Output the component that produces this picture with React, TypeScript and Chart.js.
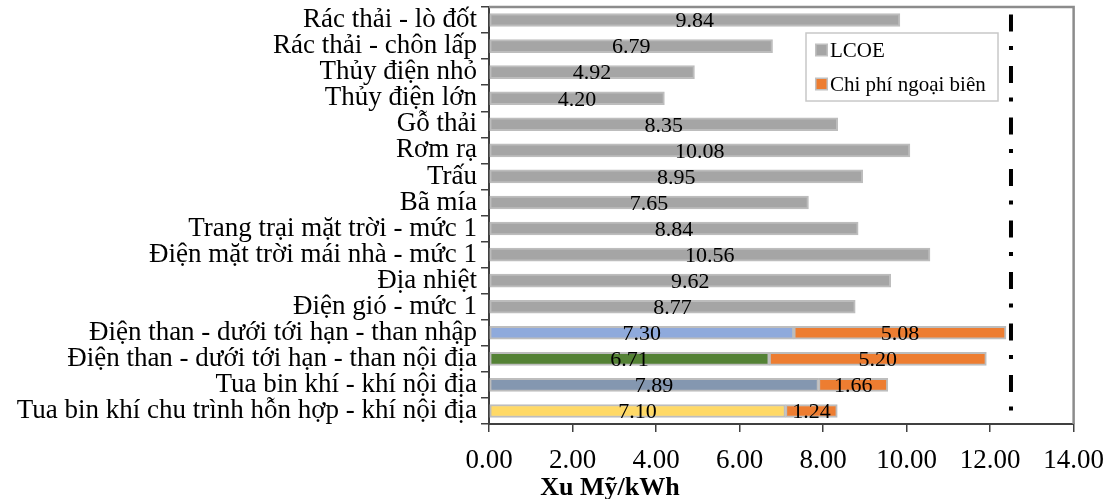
import React, { useEffect, useRef } from "react";
import { Chart, registerables } from "chart.js";

Chart.register(...registerables);

const categories = [
  "Rác thải - lò đốt",
  "Rác thải - chôn lấp",
  "Thủy điện nhỏ",
  "Thủy điện lớn",
  "Gỗ thải",
  "Rơm rạ",
  "Trấu",
  "Bã mía",
  "Trang trại mặt trời - mức 1",
  "Điện mặt trời mái nhà - mức 1",
  "Địa nhiệt",
  "Điện gió - mức 1",
  "Điện than - dưới tới hạn - than nhập",
  "Điện than - dưới tới hạn - than nội địa",
  "Tua bin khí - khí nội địa",
  "Tua bin khí chu trình hỗn hợp - khí nội địa",
];

const lcoe = [9.84, 6.79, 4.92, 4.2, 8.35, 10.08, 8.95, 7.65, 8.84, 10.56, 9.62, 8.77, 7.3, 6.71, 7.89, 7.1];
const externalCost = [null, null, null, null, null, null, null, null, null, null, null, null, 5.08, 5.2, 1.66, 1.24];
const lcoeColors = [
  "#a5a5a5", "#a5a5a5", "#a5a5a5", "#a5a5a5", "#a5a5a5", "#a5a5a5",
  "#a5a5a5", "#a5a5a5", "#a5a5a5", "#a5a5a5", "#a5a5a5", "#a5a5a5",
  "#8faadc", "#548235", "#8497b0", "#ffd966",
];
const xTicks = [0, 2, 4, 6, 8, 10, 12, 14];
const referenceLine = 12.5;
const seriesNames = ["LCOE", "Chi phí ngoại biên"];
const xAxisTitle = "Xu Mỹ/kWh";

const SERIF = "'Liberation Serif', 'Times New Roman', serif";

const decorPlugin = {
  id: "decor",
  afterDatasetsDraw(chart: any) {
    const { ctx, chartArea, scales } = chart;
    const xs = scales.x;
    ctx.save();
    // data labels
    ctx.font = `22px ${SERIF}`;
    ctx.fillStyle = "#000";
    ctx.textAlign = "center";
    ctx.textBaseline = "middle";
    chart.data.datasets.forEach((ds: any, di: number) => {
      const meta = chart.getDatasetMeta(di);
      meta.data.forEach((bar: any, i: number) => {
        const v = ds.data[i];
        if (v === null || v === undefined) return;
        const cx = (bar.x + bar.base) / 2;
        ctx.fillText(v.toFixed(2), cx, bar.y + 1.5);
      });
    });
    // dash-dot reference line
    const lx = xs.getPixelForValue(referenceLine);
    ctx.strokeStyle = "#000";
    ctx.lineWidth = 4;
    ctx.setLineDash([17, 14.5, 4, 16]);
    ctx.beginPath();
    ctx.moveTo(lx, chartArea.top + 7.5);
    ctx.lineTo(lx, chartArea.bottom);
    ctx.stroke();
    ctx.setLineDash([]);
    // top/right border
    ctx.strokeStyle = "#8c8c8c";
    ctx.lineWidth = 2.5;
    ctx.beginPath();
    ctx.moveTo(chartArea.left, chartArea.top);
    ctx.lineTo(chartArea.right, chartArea.top);
    ctx.lineTo(chartArea.right, chartArea.bottom);
    ctx.stroke();
    // legend
    const lx0 = chartArea.left + 317;
    const ly0 = chartArea.top + 26;
    ctx.strokeStyle = "#c8c8c8";
    ctx.lineWidth = 1.5;
    ctx.strokeRect(lx0, ly0, 192, 68);
    const swatch = ["#a5a5a5", "#ed7d31"];
    ctx.font = `21px ${SERIF}`;
    ctx.textAlign = "left";
    ctx.textBaseline = "middle";
    seriesNames.forEach((name, i) => {
      const yy = ly0 + 17 + i * 34;
      ctx.fillStyle = "#c0c0c0";
      ctx.fillRect(lx0 + 9, yy - 6.5, 13, 13);
      ctx.fillStyle = swatch[i];
      ctx.fillRect(lx0 + 10.5, yy - 5, 10, 10);
      ctx.fillStyle = "#000";
      ctx.fillText(name, lx0 + 24, yy + 1);
    });
    // x-axis title
    ctx.font = `bold 26px ${SERIF}`;
    ctx.textAlign = "center";
    ctx.fillText(xAxisTitle, chartArea.left + 121, chartArea.bottom + 64);
    ctx.restore();
  },
};

export default function App() {
  const ref = useRef<HTMLCanvasElement>(null);
  useEffect(() => {
    if (!ref.current) return;
    const chart = new Chart(ref.current, {
      type: "bar",
      data: {
        labels: categories,
        datasets: [
          {
            label: seriesNames[0],
            data: lcoe,
            backgroundColor: lcoeColors,
            borderColor: "#bdbdbd",
            borderWidth: 2,
            borderSkipped: false,
            barThickness: 13,
          },
          {
            label: seriesNames[1],
            data: externalCost as any,
            backgroundColor: "#ed7d31",
            borderColor: "#bdbdbd",
            borderWidth: 2,
            borderSkipped: false,
            barThickness: 13,
          },
        ],
      },
      options: {
        indexAxis: "y",
        responsive: false,
        animation: false,
        layout: { padding: { top: 7, right: 43, left: 0, bottom: 0 } },
        plugins: {
          legend: { display: false },
          tooltip: { enabled: false },
        },
        scales: {
          x: {
            stacked: true,
            min: 0,
            max: 14,
            afterBuildTicks: (scale: any) => {
              scale.ticks = xTicks.map((v) => ({ value: v }));
            },
            afterFit: (scale: any) => {
              scale.height = 75;
            },
            ticks: {
              callback: (v: any) => Number(v).toFixed(2),
              font: { family: SERIF, size: 27 },
              color: "#000",
              padding: 13,
              maxRotation: 0,
            },
            grid: {
              drawOnChartArea: false,
              drawTicks: true,
              tickLength: 8,
              color: "#404040",
              lineWidth: 1.5,
            },
            border: { color: "#404040", width: 2 },
          },
          y: {
            stacked: true,
            afterFit: (scale: any) => {
              scale.width = 489;
              scale.paddingTop = 0;
              scale.paddingBottom = 0;
            },
            ticks: {
              font: { family: SERIF, size: 27 },
              color: "#000",
              padding: 4,
              autoSkip: false,
            },
            grid: {
              drawOnChartArea: false,
              drawTicks: true,
              tickLength: 8,
              color: "#404040",
              lineWidth: 1.5,
              offset: true,
            },
            border: { color: "#404040", width: 2 },
          },
        },
      },
      plugins: [decorPlugin],
    } as any);
    return () => chart.destroy();
  }, []);
  return (
    <div style={{ position: "absolute", left: 0, top: 0, width: 1117, height: 499 }}>
      <canvas ref={ref} width={1117} height={499} />
    </div>
  );
}
